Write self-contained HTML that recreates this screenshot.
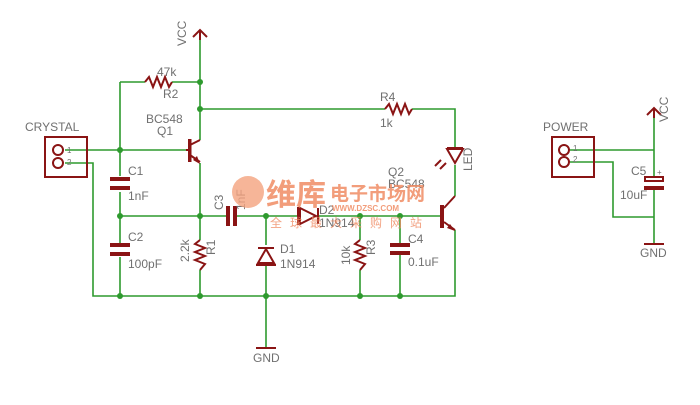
<!DOCTYPE html>
<html><head><meta charset="utf-8"><style>
html,body{margin:0;padding:0;background:#fff;width:700px;height:405px;overflow:hidden}
svg{display:block}
text{font-family:"Liberation Sans","Noto Sans CJK SC",sans-serif;fill:#707070}
.w{stroke:#2e9a2e;stroke-width:1.6;fill:none}
.c{stroke:#8a1414;stroke-width:2;fill:none}
.cf{fill:#8a1414;stroke:none}
.d{fill:#2e9a2e}
.s{font-size:8px}
.m{font-size:12px}
</style></head><body>
<svg width="700" height="405" viewBox="0 0 700 405">
<g class="w">
<path d="M200 38 V109 V140"/>
<path d="M120 82 H145 M172 82 H200"/>
<path d="M120 82 V176 M120 192 V243 M120 257 V296"/>
<path d="M65 150 H186"/>
<path d="M65 163 H93 V296 H455 V230"/>
<path d="M200 163 V240 M200 270 V296"/>
<path d="M120 216 H226 M237 216 H298 M318 216 H440"/>
<path d="M200 109 H385 M412 109 H455 V148 M455 165 V196"/>
<path d="M266 216 V245 M266 265 V348"/>
<path d="M360 216 V240 M360 270 V296"/>
<path d="M400 216 V244 M400 252 V296"/>
<path d="M570 150 H654 M654 110 V176 M654 190 V244"/>
<path d="M570 162 H613 V217 H654"/>
</g>
<g class="d">
<circle cx="200" cy="82" r="3"/><circle cx="200" cy="109" r="3"/><circle cx="120" cy="150" r="3"/>
<circle cx="120" cy="216" r="3"/><circle cx="200" cy="216" r="3"/><circle cx="266" cy="216" r="3"/>
<circle cx="360" cy="216" r="3"/><circle cx="400" cy="216" r="3"/>
<circle cx="120" cy="296" r="3"/><circle cx="200" cy="296" r="3"/><circle cx="266" cy="296" r="3"/>
<circle cx="360" cy="296" r="3"/><circle cx="400" cy="296" r="3"/>
</g>
<g class="c">
<path d="M193 37 L200 30 L207 37 M200 30 V40"/>
<path d="M647 115 L654 108 L661 115 M654 108 V118"/>
<path d="M145 82 L149 77 L153 87 L157 77 L161 87 L165 77 L169 87 L172 82"/>
<path d="M385 109 L389 104 L393 114 L397 104 L401 114 L405 104 L409 114 L412 109"/>
<path d="M200 240 L195 244 L205 248 L195 252 L205 256 L195 260 L205 264 L200 270"/>
<path d="M360 240 L355 244 L365 248 L355 252 L365 256 L355 260 L365 264 L360 270"/>
<rect x="45" y="137" width="42" height="40"/>
<rect x="552" y="137" width="42" height="40"/>
<circle cx="58" cy="150" r="5"/><circle cx="58" cy="163" r="5"/>
<circle cx="564" cy="150" r="5"/><circle cx="564" cy="162" r="5"/>
<path d="M186 150 H190 M200 140 L190 145"/>
<path d="M190 155 L200 162"/>
<path d="M440 216 H444 M455 196 L444 208 M444 222 L455 230"/>
<path d="M256 348 H276"/>
<path d="M644 244 H664"/>
<path d="M447 148 H463"/>
<path d="M441 160 L435 166 M446 163 L440 169"/>
<path d="M256 265 H276"/>
<path d="M298 207 V225"/>
<path d="M318 208 V224"/>
</g>
<g class="cf">
<rect x="110" y="177" width="20" height="4"/><rect x="110" y="186" width="20" height="4"/>
<rect x="110" y="243" width="20" height="4"/><rect x="110" y="252" width="20" height="4"/>
<rect x="390" y="243" width="20" height="4"/><rect x="390" y="251" width="20" height="4"/>
<rect x="226" y="206" width="4" height="20"/><rect x="233" y="206" width="4" height="20"/>
<rect x="188" y="139" width="3.5" height="23"/>
<rect x="440" y="205" width="4" height="23"/>
<rect x="644" y="186" width="20" height="4"/>
<path d="M200 164 L193 160 L197 156 Z"/>
<path d="M455 231 L447 228 L450 224 Z"/>
</g>
<g fill="none" stroke="#8a1414" stroke-width="2">
<rect x="645" y="177" width="18" height="4"/>
<path d="M447 149 L455 163 L463 149 Z"/>
<path d="M266 249 L258 263 H274 Z M258 248 H274"/>
<path d="M300 208 L316 216 L300 224 Z"/>
</g>
<g class="m">
<text x="186" y="46" transform="rotate(-90 186 46)">VCC</text>
<text x="668" y="122" transform="rotate(-90 668 122)">VCC</text>
<text x="157" y="76">47k</text>
<text x="163" y="98">R2</text>
<text x="146" y="123">BC548</text>
<text x="157" y="135">Q1</text>
<text x="25" y="131">CRYSTAL</text>
<text x="128" y="175">C1</text><text x="128" y="200">1nF</text>
<text x="128" y="241">C2</text><text x="128" y="268">100pF</text>
<text x="223" y="210" transform="rotate(-90 223 210)">C3</text>
<text x="245" y="210" transform="rotate(-90 245 210)">1nF</text>
<text x="189" y="262" transform="rotate(-90 189 262)">2.2k</text>
<text x="215" y="255" transform="rotate(-90 215 255)">R1</text>
<text x="280" y="253">D1</text><text x="280" y="268">1N914</text>
<text x="319" y="214">D2</text><text x="319" y="227">1N914</text>
<text x="350" y="265" transform="rotate(-90 350 265)">10k</text>
<text x="375" y="255" transform="rotate(-90 375 255)">R3</text>
<text x="408" y="243">C4</text><text x="408" y="266">0.1uF</text>
<text x="380" y="101">R4</text><text x="380" y="127">1k</text>
<text x="472" y="171" transform="rotate(-90 472 171)">LED</text>
<text x="388" y="176">Q2</text><text x="388" y="188">BC548</text>
<text x="253" y="362">GND</text>
<text x="543" y="131">POWER</text>
<text x="631" y="175">C5</text><text x="620" y="199">10uF</text>
<text x="640" y="257">GND</text>
</g>
<g class="s">
<text x="67" y="153">1</text><text x="67" y="165">2</text>
<text x="573" y="151">1</text><text x="573" y="162">2</text>
<text x="657" y="175">+</text>
</g>
<circle cx="248" cy="192" r="16" fill="#f4a27e" opacity="0.8"/>
<text x="266" y="205" style="font-size:30px;font-weight:bold;fill:#f08c64" opacity="0.85">维库</text>
<text x="330" y="200" style="font-size:19px;font-weight:bold;fill:#f08c64" opacity="0.85">电子市场网</text>
<text x="332" y="211" style="font-size:8px;font-weight:bold;fill:#f08c64" opacity="0.85">WWW.DZSC.COM</text>
<text x="270" y="227" style="font-size:12px;fill:#f08c64;letter-spacing:8px" opacity="0.8">全球最大采购网站</text>
</svg>
</body></html>
